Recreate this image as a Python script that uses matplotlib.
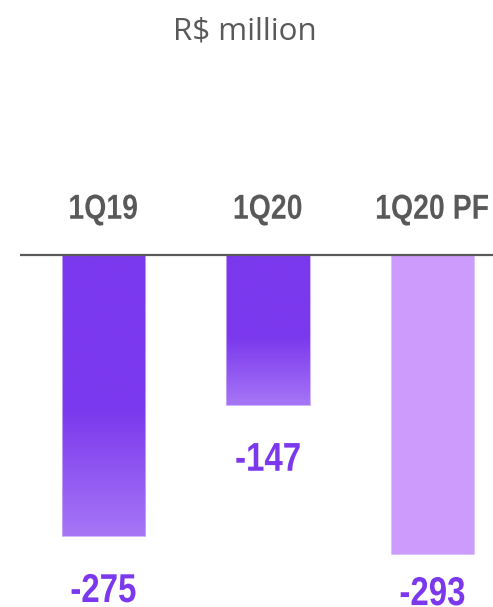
import numpy as np
import matplotlib.pyplot as plt
from matplotlib.colors import LinearSegmentedColormap
from matplotlib.font_manager import FontProperties
from matplotlib.patches import PathPatch
from matplotlib.textpath import TextPath
from matplotlib.transforms import Affine2D

# Quarterly values, R$ million
quarters = ['1Q19', '1Q20', '1Q20 PF']
values = [-275, -147, -293]
gradient_bar = [True, True, False]

purple = '#7B38ED'
purple_light = '#A676F6'
lilac = '#CD9BFB'
gray = '#595959'

DPI = 100
bold = FontProperties(family='Liberation Sans', weight='bold')


def narrow_text(fig, ax, x, y, s, size, color, va='center', squeeze=0.82):
    """Bold condensed label: Liberation Sans Bold squeezed horizontally."""
    path = TextPath((0, 0), s, size=size * DPI / 72, prop=bold)
    ext = path.get_extents()
    px, py = ax.transData.transform((x, y))
    cx = (ext.x0 + ext.x1) / 2
    if va == 'top':
        oy = ext.y1
    else:
        oy = (ext.y0 + ext.y1) / 2
    tr = Affine2D().translate(-cx, -oy).scale(squeeze, 1).translate(px, py)
    fig.add_artist(PathPatch(tr.transform_path(path), facecolor=color,
                             edgecolor='none', transform=None))


fig = plt.figure(figsize=(4.93, 6.07), dpi=DPI)
ax = fig.add_axes([20 / 493, 0, 473 / 493, 1])
ax.set_xlim(-0.508, 2.368)
ax.set_ylim(-344.4, 249.5)
ax.axis('off')

# solid top, fading lighter towards the bottom of the bar
cmap = LinearSegmentedColormap.from_list(
    'fade', [(0, purple), (0.55, purple), (1, purple_light)])
grad = np.linspace(0, 1, 256).reshape(-1, 1)

width = 0.505
for i, (q, v, g) in enumerate(zip(quarters, values, gradient_bar)):
    x0, x1 = i - width / 2, i + width / 2
    if g:
        ax.imshow(grad, cmap=cmap, extent=(x0, x1, v, 0), aspect='auto',
                  origin='upper', interpolation='bicubic', zorder=2)
        ax.bar(i, v, width=width, color='none', edgecolor='#C9A8FA',
               linewidth=0.6, zorder=3)
    else:
        ax.bar(i, v, width=width, color=lilac, edgecolor='#DCC0FC',
               linewidth=0.6, zorder=3)

ax.axhline(0, color=gray, linewidth=1.6, zorder=4)

for i, (q, v) in enumerate(zip(quarters, values)):
    # category name above the axis line
    narrow_text(fig, ax, i, 44, q, 25, gray)
    # value label below the bar
    narrow_text(fig, ax, i, max(v - 37, -315), f'{v}', 29, purple, va='top')

fig.text(245 / 493, 1 - 31 / 607, 'R$ million', ha='center', va='center',
         fontsize=22.5, color=gray, family='Open Sans')

fig.savefig('out.png', dpi=DPI)
